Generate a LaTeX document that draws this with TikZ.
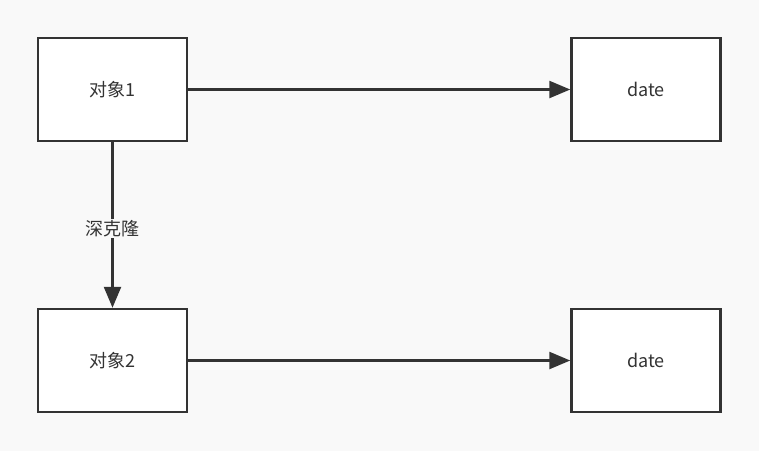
\documentclass[tikz,border=0pt]{standalone}
\usepackage{fontspec}
\setmainfont{Noto Sans CJK SC}
\usetikzlibrary{positioning,arrows.meta}
\definecolor{ink}{HTML}{333333}
\definecolor{paper}{HTML}{F9F9F9}

\begin{document}
\begin{tikzpicture}[x=1pt,y=-1pt,
    box/.style={draw=ink, line width=2.5pt, fill=white, minimum width=149pt, minimum height=103pt, font=\fontsize{18pt}{21pt}\selectfont, text=ink},
    link/.style={draw=ink, line width=2.5pt, -{Triangle[length=21pt,width=17pt]}}]
    % Background
    \fill[paper] (0,0) rectangle (759,451);
    \useasboundingbox (0,0) rectangle (759,451);

    % Boxes
    \node[box] (obj1) at (112.5,89.5) {对象1};
    \node[box] (date1) at (646,89.5) {date};
    \node[box] (obj2) at (112.5,360.5) {对象2};
    \node[box] (date2) at (646,360.5) {date};

    % Arrows
    \draw[link] (obj1) -- (date1);
    \draw[link] (obj2) -- (date2);
    \draw[link] (obj1) -- node[fill=paper, text=ink, font=\fontsize{18pt}{21pt}\selectfont, inner sep=1pt, pos=0.52] {深克隆} (obj2);
\end{tikzpicture}
\end{document}
